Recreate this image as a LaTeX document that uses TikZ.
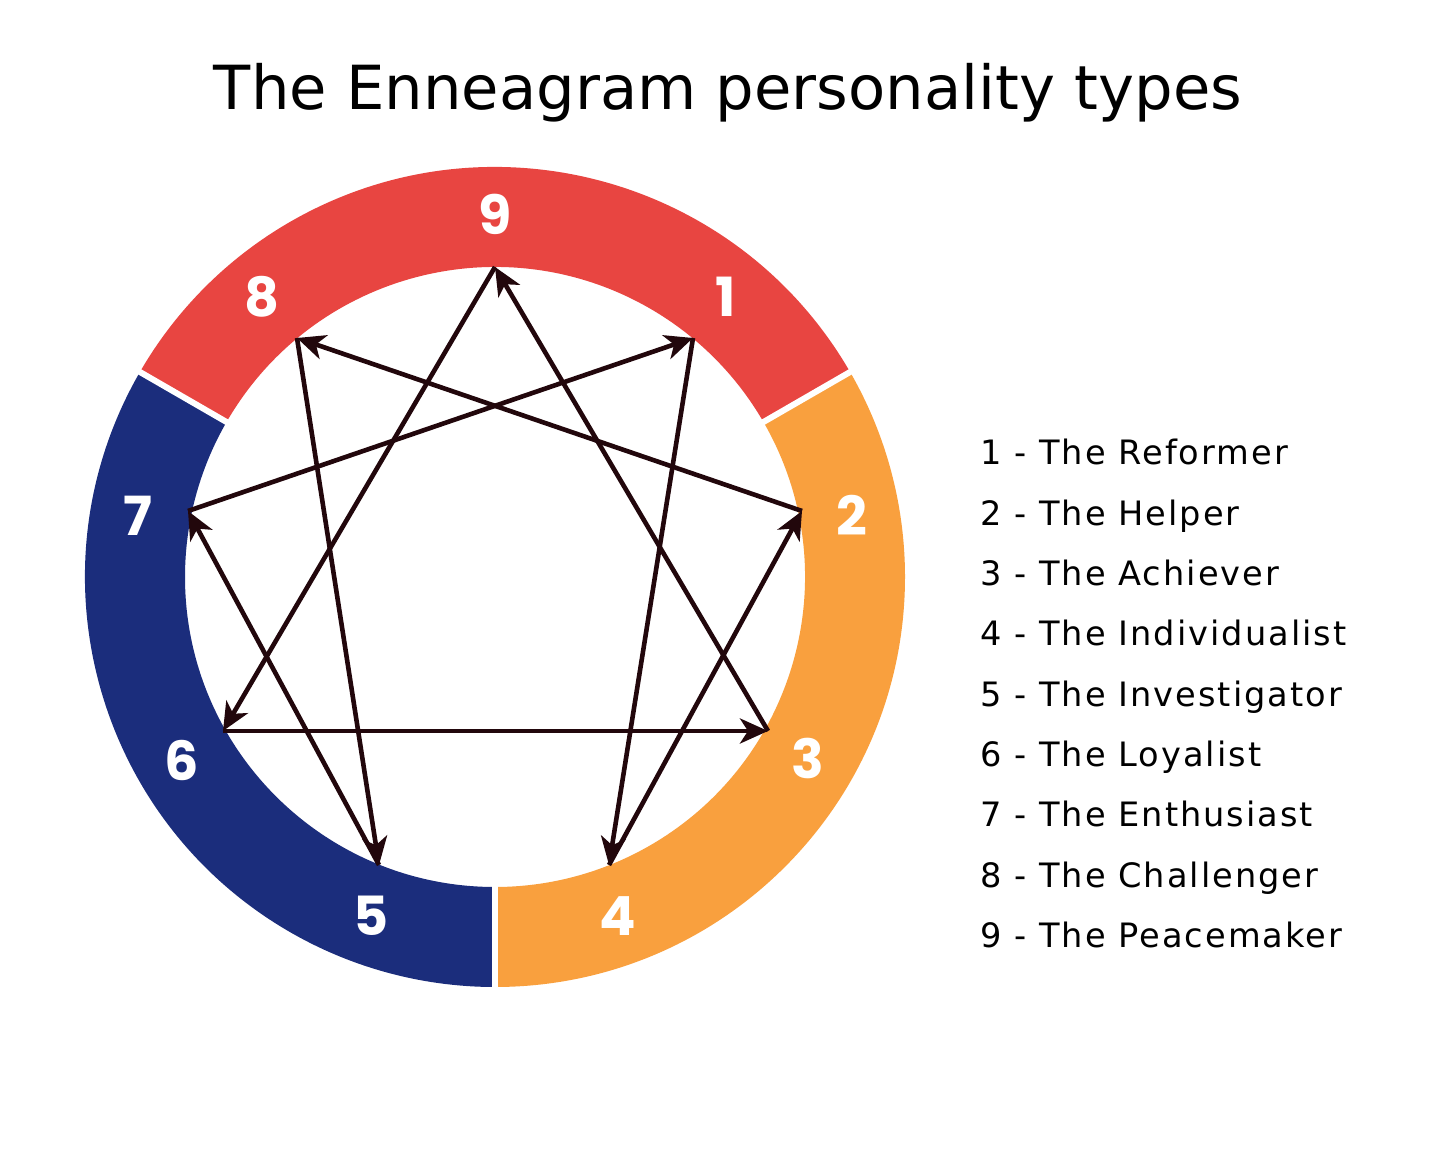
\documentclass[tikz,border=0pt]{standalone}
\usepackage{fontspec}
\setmainfont{DejaVu Sans}
\newfontfamily\numfont{Poppins}
\newfontfamily\legendfont{DejaVu Sans}[LetterSpace=6]
\usetikzlibrary{arrows.meta}
\definecolor{ringred}{HTML}{E84541}
\definecolor{ringorange}{HTML}{F9A03E}
\definecolor{ringblue}{HTML}{1B2D7C}
\definecolor{arrowdark}{HTML}{22070C}
\tikzset{
  numlabel/.style={text=white, font=\numfont\bfseries\fontsize{27}{27}\selectfont, inner sep=0pt},
  legend/.style={anchor=base west, inner sep=0pt, font=\legendfont\fontsize{16.8}{17}\selectfont},
  titletext/.style={anchor=base, inner sep=0pt, font=\fontsize{30.4}{31}\selectfont},
  conn/.style={draw=arrowdark, line width=2.3pt, -{Stealth[length=14pt,width=12.5pt,inset=4pt]}},
  gapline/.style={draw=white, line width=3pt}
}
\begin{document}
\begin{tikzpicture}[x=0.5pt,y=-0.5pt]
\useasboundingbox[fill=white] (0,0) rectangle (1456,1165);
% ring
\begin{scope}[shift={(495,577)}, yscale=-1]
  \fill[ringred] (30:410) arc[start angle=30,end angle=150,radius=410]
     -- (150:310) arc[start angle=150,end angle=30,radius=310] -- cycle;
  \fill[ringorange] (-90:410) arc[start angle=-90,end angle=30,radius=410]
     -- (30:310) arc[start angle=30,end angle=-90,radius=310] -- cycle;
  \fill[ringblue] (150:410) arc[start angle=150,end angle=270,radius=410]
     -- (270:310) arc[start angle=270,end angle=150,radius=310] -- cycle;
  \draw[gapline] (30:300) -- (30:420);
  \draw[gapline] (150:300) -- (150:420);
  \draw[gapline] (270:300) -- (270:420);
\end{scope}
% ring labels
\node[numlabel] (l9) at (495,214) {9};
\node[numlabel] (l1) at (726,297) {1};
\node[numlabel] (l2) at (852,515) {2};
\node[numlabel] (l3) at (808,758) {3};
\node[numlabel] (l4) at (618,916) {4};
\node[numlabel] (l5) at (371,916) {5};
\node[numlabel] (l6) at (182,760) {6};
\node[numlabel] (l7) at (138,516) {7};
\node[numlabel] (l8) at (262,297) {8};
% points on inner circle
\coordinate (p9) at (495,267);
\coordinate (p1) at (693,338);
\coordinate (p2) at (802,511);
\coordinate (p3) at (768,731);
\coordinate (p4) at (609,865);
\coordinate (p5) at (379,865);
\coordinate (p6) at (223,731);
\coordinate (p7) at (188,511);
\coordinate (p8) at (297,338);
% connectors
\draw[conn] (p1) -- (p4);
\draw[conn] (p4) -- (p2);
\draw[conn] (p2) -- (p8);
\draw[conn] (p8) -- (p5);
\draw[conn] (p5) -- (p7);
\draw[conn] (p7) -- (p1);
\draw[conn] (p9) -- (p6);
\draw[conn] (p6) -- (p3);
\draw[conn] (p3) -- (p9);
% title
\node[titletext] (title) at (728,110) {The Enneagram personality types};
% legend
\node[legend] (t1) at (980,465) {1 - The Reformer};
\node[legend] (t2) at (980,525.3) {2 - The Helper};
\node[legend] (t3) at (980,585.6) {3 - The Achiever};
\node[legend] (t4) at (980,645.9) {4 - The Individualist};
\node[legend] (t5) at (980,706.2) {5 - The Investigator};
\node[legend] (t6) at (980,766.5) {6 - The Loyalist};
\node[legend] (t7) at (980,826.8) {7 - The Enthusiast};
\node[legend] (t8) at (980,887.1) {8 - The Challenger};
\node[legend] (t9) at (980,947.4) {9 - The Peacemaker};
\end{tikzpicture}
\end{document}
